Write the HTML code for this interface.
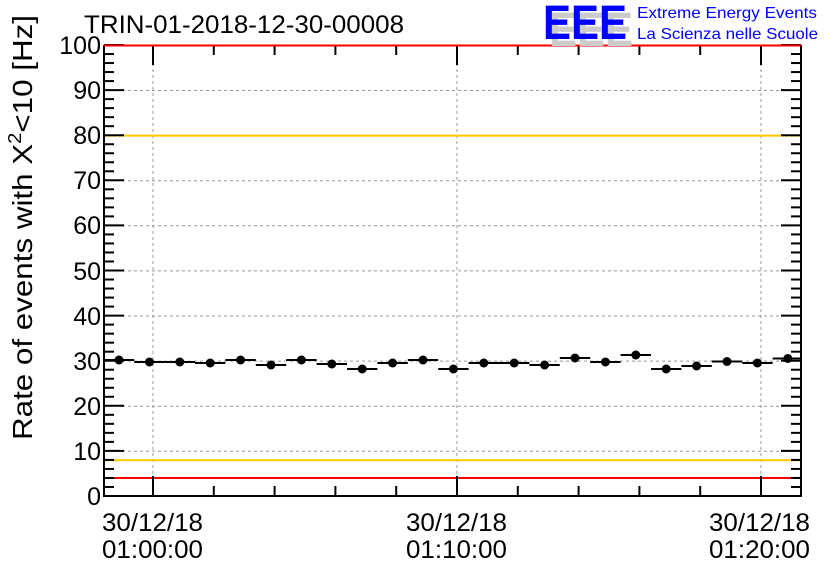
<!DOCTYPE html>
<html><head><meta charset="utf-8"><style>body{margin:0;background:#fff}svg{display:block}text{font-family:"Liberation Sans",sans-serif}</style></head><body>
<svg width="836" height="572" viewBox="0 0 836 572" xmlns="http://www.w3.org/2000/svg">
<g stroke="#999" stroke-dasharray="3,3" stroke-width="1">
<line x1="104" x2="801" y1="90.5" y2="90.5"/><line x1="104" x2="801" y1="135.6" y2="135.6"/><line x1="104" x2="801" y1="180.7" y2="180.7"/><line x1="104" x2="801" y1="225.8" y2="225.8"/><line x1="104" x2="801" y1="270.9" y2="270.9"/><line x1="104" x2="801" y1="316" y2="316"/><line x1="104" x2="801" y1="361.1" y2="361.1"/><line x1="104" x2="801" y1="406.2" y2="406.2"/><line x1="104" x2="801" y1="451.3" y2="451.3"/>
<line x1="153" x2="153" y1="45" y2="496"/><line x1="457" x2="457" y1="45" y2="496"/><line x1="761" x2="761" y1="45" y2="496"/>
</g>
<line x1="104" x2="801" y1="135.6" y2="135.6" stroke="#ffc800" stroke-width="2"/>
<line x1="104" x2="801" y1="460.3" y2="460.3" stroke="#ffc800" stroke-width="2"/>
<line x1="104" x2="801" y1="478" y2="478" stroke="#f00" stroke-width="2"/>
<g stroke="#000" stroke-width="2" fill="none">
<path d="M104 45V496H801V45"/>
</g>
<g stroke="#000" stroke-width="2" id="ticks"></g>
<line x1="104" x2="801" y1="45.5" y2="45.5" stroke="#f00" stroke-width="2"/>
<g id="data" stroke="#000" stroke-width="2"></g>
<g font-size="25" text-anchor="end" fill="#000">
<text x="101" y="54">100</text><text x="101" y="99">90</text><text x="101" y="144">80</text><text x="101" y="189">70</text><text x="101" y="234">60</text><text x="101" y="280">50</text><text x="101" y="325">40</text><text x="101" y="370">30</text><text x="101" y="415">20</text><text x="101" y="460">10</text><text x="101" y="505">0</text>
</g>
<g font-size="25" fill="#000">
<text x="102" y="531" textLength="101" lengthAdjust="spacingAndGlyphs">30/12/18</text><text x="102" y="558" textLength="101" lengthAdjust="spacingAndGlyphs">01:00:00</text>
<text x="406" y="531" textLength="101" lengthAdjust="spacingAndGlyphs">30/12/18</text><text x="406" y="558" textLength="101" lengthAdjust="spacingAndGlyphs">01:10:00</text>
<text x="709" y="531" textLength="101" lengthAdjust="spacingAndGlyphs">30/12/18</text><text x="709" y="558" textLength="101" lengthAdjust="spacingAndGlyphs">01:20:00</text>
</g>
<text x="84" y="33" font-size="25" fill="#000" textLength="320" lengthAdjust="spacingAndGlyphs">TRIN-01-2018-12-30-00008</text>
<text transform="translate(32,440) rotate(-90)" font-size="28" fill="#000" textLength="425" lengthAdjust="spacingAndGlyphs">Rate of events with X<tspan dy="-11" font-size="18">2</tspan><tspan dy="11">&lt;10 [Hz]</tspan></text>
<g font-size="48" font-weight="bold">
<text x="549" y="46" fill="#ccc" textLength="84" lengthAdjust="spacingAndGlyphs">EEE</text>
<text x="543" y="39" fill="#00f" textLength="84" lengthAdjust="spacingAndGlyphs">EEE</text>
</g>
<text x="637" y="18" font-size="16" fill="#00f" textLength="180" lengthAdjust="spacingAndGlyphs">Extreme Energy Events</text>
<text x="637" y="39" font-size="16" fill="#00f" textLength="181" lengthAdjust="spacingAndGlyphs">La Scienza nelle Scuole</text>
</svg>
<script>
var ns="http://www.w3.org/2000/svg";
function L(g,x1,y1,x2,y2){var l=document.createElementNS(ns,"line");l.setAttribute("x1",x1);l.setAttribute("y1",y1);l.setAttribute("x2",x2);l.setAttribute("y2",y2);g.appendChild(l);}
var t=document.getElementById("ticks");
for(var v=0;v<=100;v+=2){var y=496-v*4.51;var len=v%10==0?20:10;L(t,104,y,104+len,y);L(t,801,y,801-len,y);}
for(var x=153-60.8;x<802;x+=60.8){if(x<104)continue;var maj=Math.abs((x-153)%304)<1||Math.abs((x-153)%304-304)<1;var len=maj?20:10;L(t,x,496,x,496-len);L(t,x,45,x,45+len);}
var ys=[360,362,362,363,360,365,360,364,369,363,360,369,363,363,365,358,362,355,369,366,361.5,363,358.5];
var d=document.getElementById("data");
for(var i=0;i<ys.length;i++){var x=119+i*30.4;L(d,x-15.2,ys[i],Math.min(x+15.2,801),ys[i]);var c=document.createElementNS(ns,"circle");c.setAttribute("cx",x);c.setAttribute("cy",ys[i]);c.setAttribute("r",4.5);c.setAttribute("fill","#000");c.setAttribute("stroke","none");d.appendChild(c);}
</script>
</body></html>
